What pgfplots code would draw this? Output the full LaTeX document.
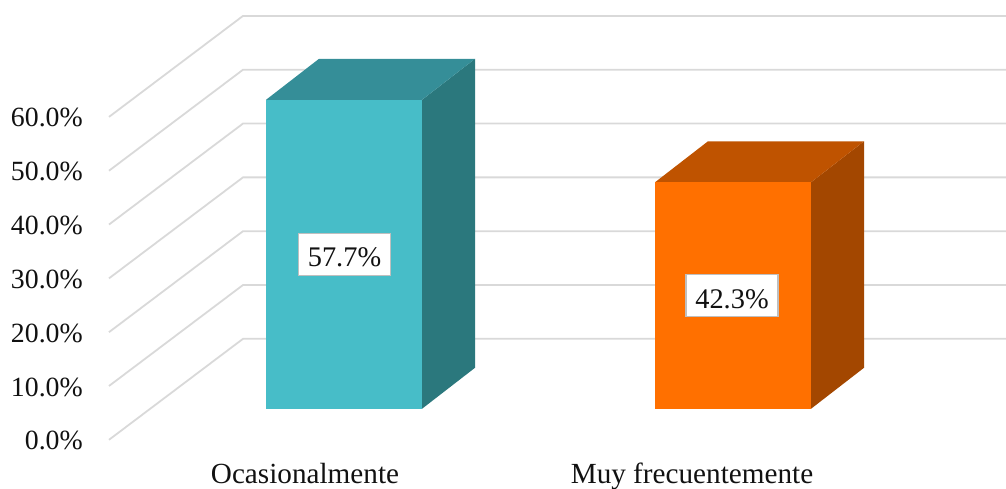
\documentclass[border=0pt]{standalone}
\usepackage{fontspec}
\setmainfont{Liberation Serif}
\usepackage{pgfplots}
\pgfplotsset{compat=1.18}
\definecolor{gridc}{HTML}{D9D9D9}
\definecolor{tealF}{HTML}{47BDC8}
\definecolor{tealT}{HTML}{358E98}
\definecolor{tealS}{HTML}{2B787D}
\definecolor{orF}{HTML}{FF7000}
\definecolor{orT}{HTML}{BF5300}
\definecolor{orS}{HTML}{A34700}
\definecolor{lab}{HTML}{111111}
\begin{document}
\begin{tikzpicture}[x=1pt,y=1pt]
\begin{axis}[
  at={(88,62)}, anchor=south west,
  scale only axis, width=918pt, height=440pt,
  xmin=88, xmax=1006, ymin=-8.59, ymax=73.58,
  axis line style={draw=none}, tick style={draw=none},
  major tick length=0pt,
  ytick={-5.79,4.26,14.31,24.36,34.41,44.46,54.51},
  yticklabels={0.0\%,10.0\%,20.0\%,30.0\%,40.0\%,50.0\%,60.0\%},
  xtick={305,692},
  xticklabels={Ocasionalmente,Muy frecuentemente},
  tick label style={text=lab},
  yticklabel style={font=\fontsize{27.8}{30}\selectfont, inner sep=0pt, xshift=-5pt, yshift=-1pt},
  xticklabel style={font=\fontsize{29.2}{31}\selectfont, inner sep=0pt, yshift=-8pt, anchor=north},
  clip=false,
]
% gridlines: wall and back-wall polylines
\addplot[gridc, line width=1.8pt] coordinates {(109,-5.79) (243,13.07) (1006,13.07)};
\addplot[gridc, line width=1.8pt] coordinates {(109,4.26) (243,23.12) (1006,23.12)};
\addplot[gridc, line width=1.8pt] coordinates {(109,14.31) (243,33.17) (1006,33.17)};
\addplot[gridc, line width=1.8pt] coordinates {(109,24.36) (243,43.22) (1006,43.22)};
\addplot[gridc, line width=1.8pt] coordinates {(109,34.41) (243,53.27) (1006,53.27)};
\addplot[gridc, line width=1.8pt] coordinates {(109,44.46) (243,63.32) (1006,63.32)};
\addplot[gridc, line width=1.8pt] coordinates {(109,54.51) (243,73.37) (1006,73.37)};
% Ocasionalmente 57.7
\addplot[draw=none, fill=tealS] coordinates {(422,0) (475,7.66) (475,65.36) (422,57.7)} --cycle;
\addplot[draw=none, fill=tealT] coordinates {(266,57.7) (319,65.36) (475,65.36) (422,57.7)} --cycle;
\addplot[draw=none, fill=tealF] coordinates {(266,0) (422,0) (422,57.7) (266,57.7)} --cycle;
% Muy frecuentemente 42.3
\addplot[draw=none, fill=orS] coordinates {(811,0) (864,7.66) (864,49.96) (811,42.3)} --cycle;
\addplot[draw=none, fill=orT] coordinates {(655,42.3) (708,49.96) (864,49.96) (811,42.3)} --cycle;
\addplot[draw=none, fill=orF] coordinates {(655,0) (811,0) (811,42.3) (655,42.3)} --cycle;
\node[draw=black!25, line width=1.5pt, fill=white, text=lab, inner sep=0pt, minimum width=92pt, minimum height=42pt, text height=25pt, text depth=0pt, font=\fontsize{28.4}{30}\selectfont] at (axis cs:344.5,28.85) {57.7\%};
\node[draw=black!25, line width=1.5pt, fill=white, text=lab, inner sep=0pt, minimum width=92pt, minimum height=42pt, text height=25pt, text depth=0pt, font=\fontsize{28.4}{30}\selectfont] at (axis cs:732,21.15) {42.3\%};
\end{axis}
\pgfresetboundingbox
\path[use as bounding box] (0,0) rectangle (1006,488);
\end{tikzpicture}
\end{document}
